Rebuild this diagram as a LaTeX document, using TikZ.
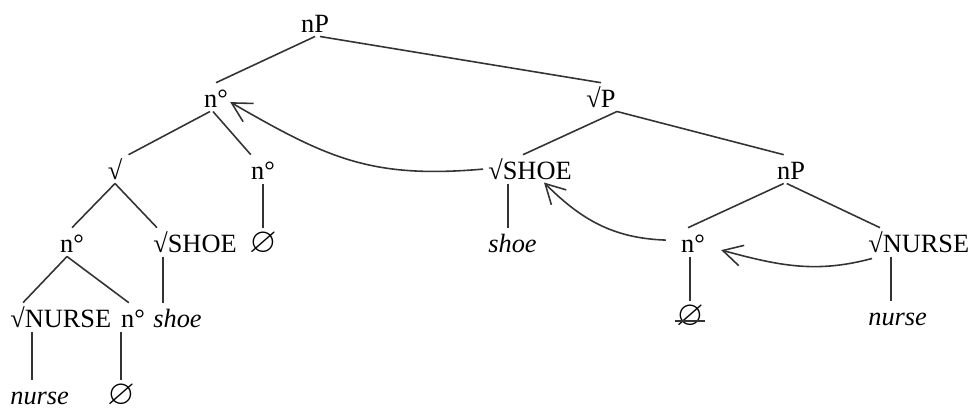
\documentclass[tikz,border=0pt]{standalone}
\usepackage{amssymb}
\usepackage{fontspec}
\setmainfont{Liberation Serif}
\usepackage{tikz}
\usetikzlibrary{arrows.meta,positioning}

\begin{document}
\begin{tikzpicture}[x=0.02cm,y=-0.02cm,
	lbl/.style={inner sep=0pt,text height=14.2pt,text depth=1.8pt,font=\fontsize{15}{18}\selectfont},
	nul/.style={lbl,font=\fontsize{20}{22}\selectfont},
	branch/.style={line width=0.9pt,black!80},
	move/.style={line width=0.9pt,black!80,-{Straight Barb[length=11pt,width=12pt]}}]
	\useasboundingbox (0,0) rectangle (980,411);
	\node[lbl,anchor=base] (nP) at (315,33) {nP};
	\node[lbl,anchor=base] (nA) at (216,108) {n°};
	\node[lbl,anchor=base] (rootP) at (601,108) {√P};
	\node[lbl,anchor=base] (rootA) at (115,180) {√};
	\node[lbl,anchor=base] (nB) at (263,180) {n°};
	\node[lbl,anchor=base west] (shoeR) at (488,180) {√SHOE};
	\node[lbl,anchor=base] (nPb) at (791,180) {nP};
	\node[lbl,anchor=base] (nC) at (72,253) {n°};
	\node[lbl,anchor=base west] (shoeL) at (153,253) {√SHOE};
	\node[nul,anchor=base] (zeroA) at (263,253) {$\varnothing$};
	\node[lbl,anchor=base west] (shoeRw) at (488,253) {\textit{shoe}};
	\node[lbl,anchor=base] (nD) at (693,253) {n°};
	\node[lbl,anchor=base west] (nurseR) at (868,253) {√NURSE};
	\node[lbl,anchor=base west] (nurseL) at (10,328) {√NURSE};
	\node[lbl,anchor=base] (nE) at (133,328) {n°};
	\node[lbl,anchor=base west] (shoeLw) at (153,328) {\textit{shoe}};
	\node[nul,anchor=base] (zeroB) at (690,326) {$\varnothing$};
	\node[lbl,anchor=base west] (nurseRw) at (868,326) {\textit{nurse}};
	\node[lbl,anchor=base west] (nurseLw) at (10,405) {\textit{nurse}};
	\node[nul,anchor=base] (zeroC) at (121,405) {$\varnothing$};

	\draw[branch] (nP.south) -- (nA.north);
	\draw[branch] ([shift={(5,0)}]nP.south) -- (rootP.north);
	\draw[branch] ([shift={(-6,0)}]nA.south) -- ([shift={(6,0)}]rootA.north east);
	\draw[branch] ([shift={(-3,0)}]nA.south) -- (nB.north west);
	\draw[branch] (rootA.south) -- (nC.north);
	\draw[branch] (rootA.south) -- ([shift={(4,0)}]shoeL.north west);
	\draw[branch] (zeroA.north) -- (zeroA.north |- nB.south);
	\draw[branch] ([shift={(-5,0)}]nC.south) -- ([shift={(13,0)}]nurseL.north west);
	\draw[branch] ([shift={(-5,0)}]nC.south) -- ([shift={(8,0)}]nE.north west);
	\draw[branch] ([shift={(10,0)}]shoeL.south west) -- ([shift={(10,0)}]shoeLw.north west);
	\draw[branch] ([shift={(22,0)}]nurseL.south west) -- ([shift={(22,0)}]nurseLw.north west);
	\draw[branch] (zeroC.north) -- (zeroC.north |- nE.south);

	\draw[branch] ([shift={(16,0)}]rootP.south) -- ([shift={(35,0)}]shoeR.north west);
	\draw[branch] ([shift={(16,0)}]rootP.south) -- ([shift={(7,0)}]nPb.north west);
	\draw[branch] ([shift={(7,0)}]nPb.south west) -- ([shift={(-5,0)}]nD.north);
	\draw[branch] ([shift={(10,0)}]nPb.south west) -- ([shift={(12,0)}]nurseR.north west);
	\draw[branch] ([shift={(20,0)}]shoeR.south west) -- ([shift={(20,0)}]shoeRw.north west);
	\draw[branch] (zeroB.north) -- (zeroB.north |- nD.south);
	\draw[branch] ([shift={(23,0)}]nurseR.south west) -- ([shift={(23,0)}]nurseRw.north west);
	\draw[branch] ([shift={(-1,-5)}]zeroB.base west) -- ([shift={(1,-5)}]zeroB.base east);

	\draw[move] ([shift={(-5,0)}]shoeR.west) to[out=185,in=-30,looseness=1.1] ([shift={(2,5)}]nA.east);
	\draw[move] ([shift={(-15,-2)}]nD.west) to[out=178,in=-45] ([shift={(14,-1)}]shoeR.south);
	\draw[move] ([shift={(4,2)}]nurseR.south west) to[out=195,in=-15] ([shift={(16,8)}]nD.east);
\end{tikzpicture}
\end{document}
